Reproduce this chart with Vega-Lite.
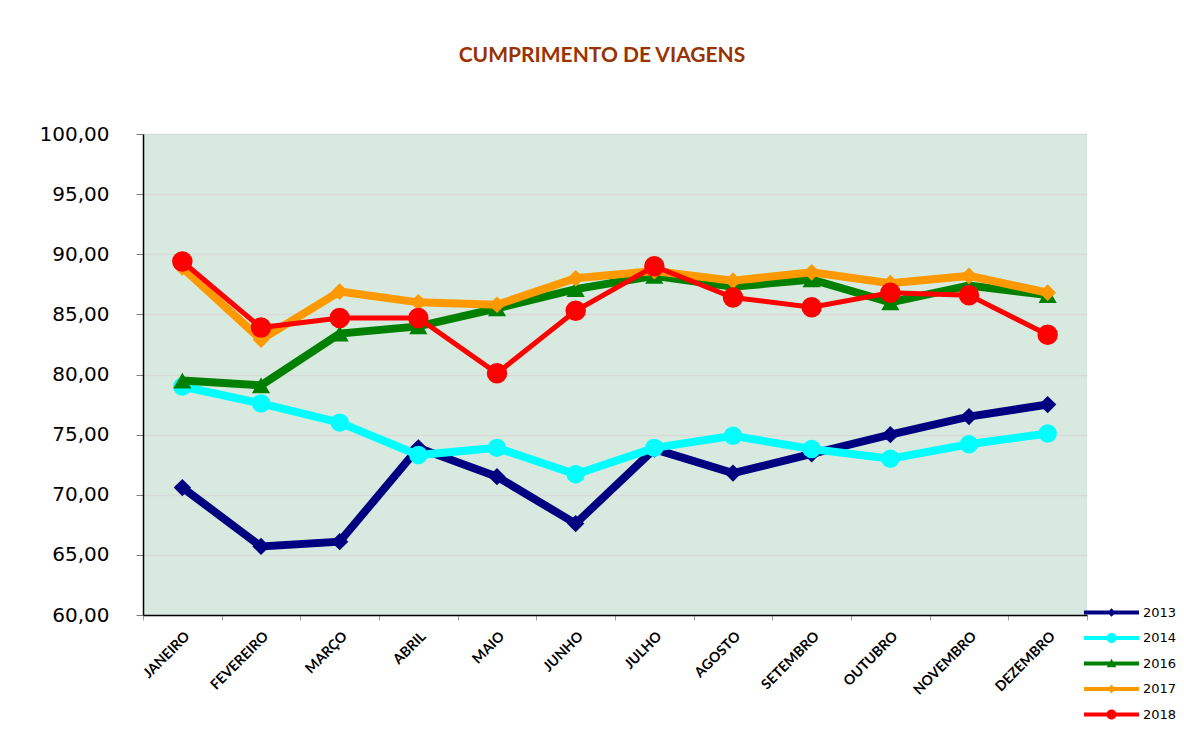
{
  "$schema": "https://vega.github.io/schema/vega-lite/v6.json",
  "autosize": {"type": "none"},
  "padding": {"left": 143, "top": 134, "right": 97, "bottom": 115},
  "width": 944,
  "height": 481,
  "background": "white",
  "title": {"text": "CUMPRIMENTO DE VIAGENS", "font": "Lato", "fontSize": 21, "fontWeight": "bold", "color": "#993300", "anchor": "middle", "dx": -13, "offset": 41, "baseline": "alphabetic"},
  "data": {"values": [
    {"mes": "JANEIRO", "2013": 70.6, "2014": 79.0, "2016": 79.5, "2017": 88.9, "2018": 89.4},
    {"mes": "FEVEREIRO", "2013": 65.7, "2014": 77.6, "2016": 79.1, "2017": 82.9, "2018": 83.9},
    {"mes": "MARÇO", "2013": 66.1, "2014": 76.0, "2016": 83.4, "2017": 86.9, "2018": 84.7},
    {"mes": "ABRIL", "2013": 73.9, "2014": 73.3, "2016": 84.0, "2017": 86.0, "2018": 84.7},
    {"mes": "MAIO", "2013": 71.5, "2014": 73.9, "2016": 85.5, "2017": 85.8, "2018": 80.1},
    {"mes": "JUNHO", "2013": 67.6, "2014": 71.7, "2016": 87.1, "2017": 88.0, "2018": 85.3},
    {"mes": "JULHO", "2013": 73.8, "2014": 73.9, "2016": 88.2, "2017": 88.6, "2018": 89.0},
    {"mes": "AGOSTO", "2013": 71.8, "2014": 74.9, "2016": 87.3, "2017": 87.8, "2018": 86.4},
    {"mes": "SETEMBRO", "2013": 73.4, "2014": 73.8, "2016": 87.9, "2017": 88.5, "2018": 85.6},
    {"mes": "OUTUBRO", "2013": 75.0, "2014": 73.0, "2016": 86.0, "2017": 87.6, "2018": 86.8},
    {"mes": "NOVEMBRO", "2013": 76.5, "2014": 74.2, "2016": 87.4, "2017": 88.2, "2018": 86.6},
    {"mes": "DEZEMBRO", "2013": 77.5, "2014": 75.1, "2016": 86.6, "2017": 86.8, "2018": 83.3}
  ]},
  "transform": [{"fold": ["2013", "2014", "2016", "2017", "2018"], "as": ["serie", "valor"]}],
  "encoding": {
    "x": {
      "field": "mes", "type": "nominal",
      "sort": ["JANEIRO", "FEVEREIRO", "MARÇO", "ABRIL", "MAIO", "JUNHO", "JULHO", "AGOSTO", "SETEMBRO", "OUTUBRO", "NOVEMBRO", "DEZEMBRO"],
      "scale": {"type": "band", "paddingInner": 0, "paddingOuter": 0},
      "bandPosition": 0.5,
      "axis": {"title": null, "labelAngle": -45, "labelFont": "Lato", "labelFontSize": 14, "labelFontWeight": "bold", "labelColor": "black", "domainColor": "black", "domainWidth": 1.5, "tickColor": "#a0a0a0", "tickSize": 5, "tickBand": "extent", "labelPadding": 9, "grid": false}
    },
    "y": {
      "field": "valor", "type": "quantitative",
      "scale": {"domain": [60, 100], "nice": false, "zero": false},
      "axis": {"title": null, "values": [60, 65, 70, 75, 80, 85, 90, 95, 100], "labelExpr": "replace(format(datum.value, '.2f'), '.', ',')", "labelFont": "DejaVu Sans", "labelFontSize": 20, "labelColor": "black", "tickSize": 7, "tickColor": "#808080", "labelPadding": 27, "domainColor": "black", "domainWidth": 1.5, "gridColor": "#d9d9d9", "gridWidth": 1.5}
    },
    "color": {"field": "serie", "type": "nominal", "scale": {"domain": ["2013", "2014", "2016", "2017", "2018"], "range": ["#000080", "#00FFFF", "#008000", "#FF9900", "#FF0000"]}, "legend": null}
  },
  "layer": [
    {
      "mark": {"type": "point", "filled": true, "size": 625, "opacity": 0},
      "encoding": {
        "color": {"field": "serie", "type": "nominal", "scale": {"domain": ["2013", "2014", "2016", "2017", "2018"], "range": ["#000080", "#00FFFF", "#008000", "#FF9900", "#FF0000"]},
          "legend": {"title": null, "orient": "none", "legendX": 956, "legendY": 466, "symbolSize": 625, "symbolStrokeWidth": 0, "symbolOpacity": 1, "labelFont": "DejaVu Sans", "labelFontSize": 13, "labelColor": "black", "labelOffset": 19, "rowPadding": 5.5, "padding": 0}},
        "shape": {"field": "serie", "type": "nominal",
          "scale": {"domain": ["2013", "2014", "2016", "2017", "2018"], "range": [
            "M-2.2,-0.16H2.2V0.16H-2.2Z M0,-0.34L0.34,0L0,0.34L-0.34,0Z",
            "M-2.2,-0.16H2.2V0.16H-2.2Z M-0.4,0A0.4,0.4,0,1,1,0.4,0A0.4,0.4,0,1,1,-0.4,0Z",
            "M-2.2,-0.16H2.2V0.16H-2.2Z M0,-0.38L0.38,0.3L-0.38,0.3Z",
            "M-2.2,-0.16H2.2V0.16H-2.2Z M0,-0.34L0.34,0L0,0.34L-0.34,0Z",
            "M-2.2,-0.16H2.2V0.16H-2.2Z M-0.4,0A0.4,0.4,0,1,1,0.4,0A0.4,0.4,0,1,1,-0.4,0Z"
          ]},
          "legend": {"title": null, "orient": "none", "legendX": 956, "legendY": 466, "symbolSize": 625, "symbolStrokeWidth": 0, "symbolOpacity": 1, "labelFont": "DejaVu Sans", "labelFontSize": 13, "labelColor": "black", "labelOffset": 19, "rowPadding": 5.5, "padding": 0}}
      }
    },
    {"transform": [{"filter": "datum.serie == '2013'"}], "mark": {"type": "line", "strokeWidth": 8}},
    {"transform": [{"filter": "datum.serie == '2013'"}], "mark": {"type": "point", "shape": "diamond", "size": 300, "filled": true, "opacity": 1}},
    {"transform": [{"filter": "datum.serie == '2014'"}], "mark": {"type": "line", "strokeWidth": 8}},
    {"transform": [{"filter": "datum.serie == '2014'"}], "mark": {"type": "point", "shape": "circle", "size": 340, "filled": true, "opacity": 1}},
    {"transform": [{"filter": "datum.serie == '2016'"}], "mark": {"type": "line", "strokeWidth": 8}},
    {"transform": [{"filter": "datum.serie == '2016'"}], "mark": {"type": "point", "shape": "triangle-up", "size": 330, "filled": true, "opacity": 1}},
    {"transform": [{"filter": "datum.serie == '2017'"}], "mark": {"type": "line", "strokeWidth": 8}},
    {"transform": [{"filter": "datum.serie == '2017'"}], "mark": {"type": "point", "shape": "diamond", "size": 280, "filled": true, "opacity": 1}},
    {"transform": [{"filter": "datum.serie == '2018'"}], "mark": {"type": "line", "strokeWidth": 5}},
    {"transform": [{"filter": "datum.serie == '2018'"}], "mark": {"type": "point", "shape": "circle", "size": 420, "filled": true, "opacity": 1}}
  ],
  "config": {"view": {"fill": "#d8eadf", "stroke": null}}
}
